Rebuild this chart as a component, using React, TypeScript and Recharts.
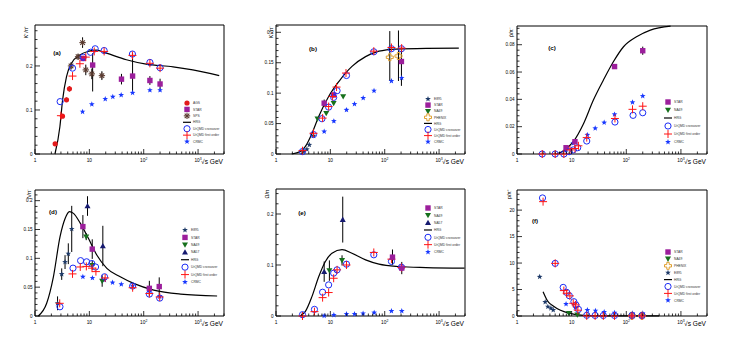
import React from 'react';
import { ComposedChart, Scatter, Line, XAxis, YAxis, ErrorBar, ReferenceArea, Legend } from 'recharts';

type E = number | [number, number];
type Pt = { x: number; y: number; e?: E };

const FONT = '"Liberation Sans", Arial, Helvetica, sans-serif';
const W = 745;
const H = 347;
const AX = 14; // reserved axis band

// ---------- x tick labels ----------
const xMajor = [1, 10, 100, 1000];
const xMajorText = ['1', '10', '10', '10'];
const xMajorExp = ['', '', '2', '3'];
const xTitle = '√s GeV';

// ---------- (a) K+/pi+ ----------
const aAGS: Pt[] = [
  { x: 2.35, y: 0.023, e: 0.004 }, { x: 3.2, y: 0.086, e: 0.004 }, { x: 3.8, y: 0.123, e: 0.005 }, { x: 4.3, y: 0.148, e: 0.006 },
];
const aSTAR: Pt[] = [
  { x: 7.7, y: 0.217, e: 0.006 }, { x: 11.5, y: 0.202, e: [0.06, 0.027] }, { x: 39, y: 0.17, e: 0.012 },
  { x: 62.4, y: 0.177, e: [0.035, 0.052] }, { x: 130, y: 0.167, e: 0.01 }, { x: 200, y: 0.159, e: 0.012 },
];
const aSPS: Pt[] = [
  { x: 4.6, y: 0.2, e: 0.008 }, { x: 6.2, y: 0.221, e: 0.006 }, { x: 7.5, y: 0.253, e: 0.012 },
  { x: 8.6, y: 0.191, e: 0.012 }, { x: 11.1, y: 0.182, e: 0.012 }, { x: 17, y: 0.178, e: 0.01 },
];
const aCross: Pt[] = [
  { x: 2.9, y: 0.119 }, { x: 4.9, y: 0.195 }, { x: 7.7, y: 0.22 }, { x: 10.5, y: 0.231 }, { x: 12.8, y: 0.239 },
  { x: 18.7, y: 0.235 }, { x: 62, y: 0.227 }, { x: 130, y: 0.208 }, { x: 200, y: 0.196 },
];
const aFirst: Pt[] = [
  { x: 3.0, y: 0.087 }, { x: 4.9, y: 0.177 }, { x: 6.7, y: 0.205 }, { x: 8.6, y: 0.22 }, { x: 12.3, y: 0.233 },
  { x: 18.7, y: 0.233 }, { x: 62, y: 0.224 }, { x: 130, y: 0.206 }, { x: 200, y: 0.195 },
];
const aCRMC: Pt[] = [
  { x: 7.5, y: 0.096 }, { x: 11.1, y: 0.113 }, { x: 19.6, y: 0.125 }, { x: 27, y: 0.13 },
  { x: 38.5, y: 0.134 }, { x: 62.4, y: 0.139 }, { x: 130, y: 0.145 }, { x: 200, y: 0.145 },
];
const aHRG: Pt[] = [
  { x: 2.33, y: 0 }, { x: 2.87, y: 0.062 }, { x: 3.22, y: 0.123 }, { x: 3.8, y: 0.176 }, { x: 4.7, y: 0.206 },
  { x: 6.7, y: 0.225 }, { x: 9.5, y: 0.233 }, { x: 13.5, y: 0.236 }, { x: 20.6, y: 0.229 }, { x: 48, y: 0.214 },
  { x: 111, y: 0.204 }, { x: 347, y: 0.198 }, { x: 800, y: 0.191 }, { x: 2450, y: 0.178 },
];

// ---------- (b) K-/pi- ----------
const bE895: Pt[] = [{ x: 3.2, y: 0.004 }, { x: 3.7, y: 0.0077 }, { x: 4.1, y: 0.015 }, { x: 4.9, y: 0.03 }];
const bSTAR: Pt[] = [{ x: 7.7, y: 0.0835, e: 0.006 }, { x: 11.5, y: 0.097, e: 0.004 }, { x: 203, y: 0.152, e: [0.04, 0.024] }];
const bNA49: Pt[] = [{ x: 5.8, y: 0.058 }, { x: 8.4, y: 0.067 }, { x: 11.5, y: 0.0835 }, { x: 17.2, y: 0.0945 }];
const bPHENIX: Pt[] = [{ x: 124, y: 0.159, e: [0.039, 0.043] }, { x: 179, y: 0.161, e: [0.041, 0.042] }];
const bCross: Pt[] = [
  { x: 3.07, y: 0.004 }, { x: 4.9, y: 0.032 }, { x: 7.0, y: 0.058 }, { x: 9.3, y: 0.077 }, { x: 11.5, y: 0.093 },
  { x: 13.3, y: 0.104 }, { x: 19.8, y: 0.129 }, { x: 63, y: 0.168 }, { x: 133, y: 0.173 }, { x: 203, y: 0.173 },
];
const bFirst: Pt[] = [
  { x: 3.07, y: 0.0055 }, { x: 4.9, y: 0.034 }, { x: 7.2, y: 0.059 }, { x: 9.3, y: 0.078 }, { x: 11, y: 0.0945 },
  { x: 13, y: 0.11 }, { x: 19.4, y: 0.133 }, { x: 63, y: 0.169 }, { x: 133, y: 0.175 }, { x: 205, y: 0.174 },
];
const bCRMC: Pt[] = [
  { x: 7.7, y: 0.037 }, { x: 11.6, y: 0.054 }, { x: 19.8, y: 0.0725 }, { x: 27.8, y: 0.082 },
  { x: 40.2, y: 0.092 }, { x: 63.6, y: 0.104 }, { x: 133, y: 0.12 }, { x: 205, y: 0.125 },
];
const bHRG: Pt[] = [
  { x: 1.95, y: 0 }, { x: 2.8, y: 0.004 }, { x: 3.45, y: 0.012 }, { x: 4.6, y: 0.034 }, { x: 6.1, y: 0.0615 },
  { x: 9.3, y: 0.0945 }, { x: 14.3, y: 0.119 }, { x: 25, y: 0.144 }, { x: 44.5, y: 0.16 }, { x: 78.5, y: 0.169 },
  { x: 160, y: 0.1725 }, { x: 574, y: 0.1737 }, { x: 2310, y: 0.174 },
];

// ---------- (c) pbar/pi ----------
const cSTAR: Pt[] = [{ x: 7.9, y: 0.0046 }, { x: 11.5, y: 0.009 }, { x: 61, y: 0.064 }, { x: 200, y: 0.0756, e: 0.003 }];
const cCross: Pt[] = [
  { x: 2.9, y: 0 }, { x: 5.0, y: 0 }, { x: 7.2, y: 0 }, { x: 9.0, y: 0.0017 }, { x: 10.7, y: 0.003 },
  { x: 12.9, y: 0.0046 }, { x: 18.9, y: 0.0095 }, { x: 62, y: 0.0234 }, { x: 133, y: 0.0283 }, { x: 200, y: 0.0302 },
];
const cFirst: Pt[] = [
  { x: 2.9, y: 0 }, { x: 5.0, y: 0 }, { x: 7.2, y: 0 }, { x: 9.3, y: 0.003 }, { x: 11.5, y: 0.004 },
  { x: 13.3, y: 0.006 }, { x: 18.9, y: 0.012 }, { x: 62, y: 0.026 }, { x: 130, y: 0.0327 }, { x: 200, y: 0.035 },
];
const cCRMC: Pt[] = [
  { x: 7.9, y: 0.003 }, { x: 10.7, y: 0.0078 }, { x: 19.4, y: 0.014 }, { x: 27, y: 0.0188 },
  { x: 39.4, y: 0.023 }, { x: 61, y: 0.029 }, { x: 130, y: 0.0378 }, { x: 200, y: 0.0424 },
];
const cHRG: Pt[] = [
  { x: 5.3, y: 0 }, { x: 7.5, y: 0.003 }, { x: 10.7, y: 0.009 }, { x: 16.4, y: 0.022 }, { x: 25, y: 0.0395 },
  { x: 38, y: 0.054 }, { x: 58, y: 0.0675 }, { x: 89, y: 0.0785 }, { x: 157, y: 0.086 }, { x: 276, y: 0.0907 },
  { x: 646, y: 0.0936 },
];

// ---------- (d) Lambda/pi ----------
const dE895: Pt[] = [
  { x: 2.6, y: 0.022, e: 0.012 }, { x: 3.1, y: 0.0726, e: 0.01 }, { x: 3.57, y: 0.0935, e: 0.012 },
  { x: 4.1, y: 0.108, e: 0.018 }, { x: 4.74, y: 0.151, e: 0.04 },
];
const dSTAR: Pt[] = [
  { x: 7.6, y: 0.155, e: 0.02 }, { x: 11.3, y: 0.116, e: 0.017 }, { x: 127, y: 0.048, e: 0.013 }, { x: 193, y: 0.051, e: 0.016 },
];
const dNA49: Pt[] = [{ x: 8.75, y: 0.1375, e: 0.006 }, { x: 11.3, y: 0.088, e: 0.008 }, { x: 17.2, y: 0.0607, e: 0.01 }];
const dNA57: Pt[] = [{ x: 9.25, y: 0.1907, e: 0.017 }, { x: 17.7, y: 0.1214, e: 0.035 }];
const dCross: Pt[] = [
  { x: 2.88, y: 0.016 }, { x: 5.0, y: 0.083 }, { x: 6.9, y: 0.096 }, { x: 8.9, y: 0.094 }, { x: 11.1, y: 0.091 },
  { x: 13, y: 0.085 }, { x: 19, y: 0.068 }, { x: 62.6, y: 0.052 }, { x: 127, y: 0.038 }, { x: 197, y: 0.031 },
];
const dFirst: Pt[] = [
  { x: 2.85, y: 0.022 }, { x: 4.9, y: 0.073 }, { x: 6.8, y: 0.085 }, { x: 8.8, y: 0.086 }, { x: 11.2, y: 0.083 },
  { x: 13.2, y: 0.077 }, { x: 19.5, y: 0.066 }, { x: 62.6, y: 0.049 }, { x: 127, y: 0.039 }, { x: 197, y: 0.033 },
];
const dCRMC: Pt[] = [
  { x: 7.6, y: 0.068 }, { x: 11.4, y: 0.066 }, { x: 19, y: 0.0624 }, { x: 26.7, y: 0.058 },
  { x: 38.7, y: 0.055 }, { x: 62.6, y: 0.0526 }, { x: 127, y: 0.044 }, { x: 197, y: 0.0335 },
];
const dHRG: Pt[] = [
  { x: 1.15, y: 0 }, { x: 1.64, y: 0.022 }, { x: 2.18, y: 0.068 }, { x: 2.89, y: 0.1376 }, { x: 3.58, y: 0.169 },
  { x: 4.3, y: 0.181 }, { x: 5.1, y: 0.178 }, { x: 6.8, y: 0.161 }, { x: 9.6, y: 0.1347 }, { x: 13.7, y: 0.1058 },
  { x: 21, y: 0.0827 }, { x: 37, y: 0.068 }, { x: 65, y: 0.0566 }, { x: 153, y: 0.045 }, { x: 476, y: 0.038 },
  { x: 2240, y: 0.0347 },
];

// ---------- (e) Omega/pi ----------
const eSTAR: Pt[] = [{ x: 139, y: 0.1154, e: 0.015 }, { x: 206, y: 0.094, e: 0.012 }];
const eNA49: Pt[] = [{ x: 9.6, y: 0.089, e: 0.02 }, { x: 16.4, y: 0.109, e: 0.01 }];
const eNA57: Pt[] = [{ x: 7.7, y: 0.087, e: 0.02 }, { x: 16.9, y: 0.189, e: 0.045 }];
const eCross: Pt[] = [
  { x: 3.07, y: 0.0026 }, { x: 5.1, y: 0.013 }, { x: 7.2, y: 0.0466 }, { x: 9.3, y: 0.061 }, { x: 11.5, y: 0.084 },
  { x: 13.3, y: 0.0905 }, { x: 19.8, y: 0.1016 }, { x: 63, y: 0.12 }, { x: 133, y: 0.107 }, { x: 203, y: 0.0957 },
];
const eFirst: Pt[] = [
  { x: 3.07, y: 0 }, { x: 5.1, y: 0.0085 }, { x: 7.2, y: 0.036 }, { x: 9.3, y: 0.046 }, { x: 11.5, y: 0.074 },
  { x: 13.3, y: 0.0905 }, { x: 19.8, y: 0.1 }, { x: 63, y: 0.1246 }, { x: 133, y: 0.1115 }, { x: 203, y: 0.095 },
];
const eCRMC: Pt[] = [
  { x: 7.7, y: 0.0005 }, { x: 11.6, y: 0.002 }, { x: 19.8, y: 0.004 }, { x: 27.8, y: 0.004 },
  { x: 40, y: 0.005 }, { x: 64, y: 0.0066 }, { x: 133, y: 0.0098 }, { x: 206, y: 0.0098 },
];
const eHRG: Pt[] = [
  { x: 2.78, y: 0 }, { x: 3.45, y: 0.0085 }, { x: 4.58, y: 0.038 }, { x: 6.1, y: 0.077 }, { x: 8.1, y: 0.107 },
  { x: 10.7, y: 0.123 }, { x: 16.4, y: 0.13 }, { x: 25, y: 0.123 }, { x: 44.5, y: 0.11 }, { x: 78.5, y: 0.1016 },
  { x: 184, y: 0.097 }, { x: 575, y: 0.095 }, { x: 2940, y: 0.0938 },
];

// ---------- (f) p/pi ----------
const fSTAR: Pt[] = [{ x: 127, y: 0.05 }, { x: 194, y: 0.05 }];
const fNA49: Pt[] = [{ x: 8.9, y: 0.5 }, { x: 12.7, y: 0.25 }];
const fPHENIX: Pt[] = [{ x: 127, y: 0.05 }, { x: 194, y: 0.05 }];
const fE895: Pt[] = [{ x: 2.6, y: 7.4 }, { x: 3.28, y: 2.64 }, { x: 3.67, y: 1.76 }, { x: 4.17, y: 1.45 }, { x: 4.6, y: 1.13 }];
const fCross: Pt[] = [
  { x: 2.93, y: 22.3 }, { x: 5.0, y: 9.94 }, { x: 7.0, y: 5.4 }, { x: 8.1, y: 4.47 }, { x: 9.05, y: 3.84 },
  { x: 11, y: 2.7 }, { x: 12, y: 2.08 }, { x: 13.3, y: 1.26 }, { x: 18.9, y: 0.13 }, { x: 26.9, y: 0.1 },
  { x: 38, y: 0.1 }, { x: 61, y: 0.1 }, { x: 127, y: 0.1 }, { x: 194, y: 0.1 },
];
const fFirst: Pt[] = [
  { x: 3.0, y: 21.6 }, { x: 5.0, y: 9.94 }, { x: 7.2, y: 4.8 }, { x: 8.1, y: 4.3 }, { x: 9.3, y: 3.8 },
  { x: 10.7, y: 2.4 }, { x: 11.8, y: 2.1 }, { x: 13, y: 1.1 }, { x: 18.9, y: 0.02 }, { x: 26.9, y: 0.02 },
  { x: 38, y: 0.02 }, { x: 61, y: 0.02 }, { x: 127, y: 0.02 }, { x: 194, y: 0.02 },
];
const fCRMC: Pt[] = [
  { x: 7.9, y: 2.26 }, { x: 11.7, y: 1.6 }, { x: 19.4, y: 1.13 }, { x: 27.3, y: 1.0 },
  { x: 39.4, y: 0.75 }, { x: 61, y: 0.63 }, { x: 130, y: 0.5 }, { x: 200, y: 0.5 },
];
const fHRG: Pt[] = [
  { x: 3.0, y: 4.6 }, { x: 3.7, y: 2.7 }, { x: 4.6, y: 1.9 }, { x: 6.1, y: 1.13 }, { x: 9.3, y: 0.5 },
  { x: 16.4, y: 0.13 }, { x: 28.8, y: 0.04 }, { x: 100, y: 0.03 }, { x: 400, y: 0.03 },
];

// ---------- marker styles ----------
type Kind = { shape: string; color: string };
const KINDS: Record<string, Kind> = {
  AGS: { shape: 'circle', color: '#e31a1c' },
  STAR: { shape: 'square', color: '#9c1f9c' },
  SPS: { shape: 'asterisk', color: '#5b3b30' },
  HRG: { shape: 'line', color: '#000000' },
  'UrQMD crossover': { shape: 'ocircle', color: '#1b2cf5' },
  'UrQMD first order': { shape: 'cross', color: '#ff1414' },
  CRMC: { shape: 'star', color: '#1838ff' },
  E895: { shape: 'star', color: '#1e3a68' },
  NA49: { shape: 'tdown', color: '#16701c' },
  NA57: { shape: 'tup', color: '#161a70' },
  PHENIX: { shape: 'ocross', color: '#dfa030' },
};

const starPts = (cx: number, cy: number, R: number) => {
  const p: string[] = [];
  for (let i = 0; i < 10; i++) {
    const a = -Math.PI / 2 + (i * Math.PI) / 5;
    const r = i % 2 ? R * 0.42 : R;
    p.push(`${cx + r * Math.cos(a)},${cy + r * Math.sin(a)}`);
  }
  return p.join(' ');
};

function Mark({ kind, cx, cy }: { kind: string; cx: number; cy: number }) {
  if (cx == null || cy == null || isNaN(cx) || isNaN(cy)) return <g />;
  const k = KINDS[kind];
  const c = k.color;
  switch (k.shape) {
    case 'circle':
      return <circle cx={cx} cy={cy} r={2.6} fill={c} />;
    case 'square':
      return <rect x={cx - 2.7} y={cy - 2.7} width={5.4} height={5.4} fill={c} />;
    case 'ocircle':
      return <circle cx={cx} cy={cy} r={3.1} fill="none" stroke={c} strokeWidth={1} />;
    case 'cross':
      return (
        <g stroke={c} strokeWidth={1}>
          <line x1={cx - 4} x2={cx + 4} y1={cy} y2={cy} />
          <line x1={cx} x2={cx} y1={cy - 4} y2={cy + 4} />
        </g>
      );
    case 'star':
      return <polygon points={starPts(cx, cy, 3)} fill={c} />;
    case 'asterisk':
      return (
        <g stroke={c} strokeWidth={1.1}>
          <line x1={cx - 3.2} x2={cx + 3.2} y1={cy} y2={cy} />
          <line x1={cx} x2={cx} y1={cy - 3.2} y2={cy + 3.2} />
          <line x1={cx - 2.3} x2={cx + 2.3} y1={cy - 2.3} y2={cy + 2.3} />
          <line x1={cx - 2.3} x2={cx + 2.3} y1={cy + 2.3} y2={cy - 2.3} />
        </g>
      );
    case 'tdown':
      return <polygon points={`${cx - 3},${cy - 2.3} ${cx + 3},${cy - 2.3} ${cx},${cy + 3}`} fill={c} />;
    case 'tup':
      return <polygon points={`${cx - 3},${cy + 2.3} ${cx + 3},${cy + 2.3} ${cx},${cy - 3}`} fill={c} />;
    case 'ocross': {
      const R = 3.5, a = 1.2;
      const d = `M${cx - a},${cy - R}L${cx + a},${cy - R}L${cx + a},${cy - a}L${cx + R},${cy - a}L${cx + R},${cy + a}L${cx + a},${cy + a}L${cx + a},${cy + R}L${cx - a},${cy + R}L${cx - a},${cy + a}L${cx - R},${cy + a}L${cx - R},${cy - a}L${cx - a},${cy - a}Z`;
      return <path d={d} fill="none" stroke={c} strokeWidth={1} />;
    }
    case 'line':
      return <line x1={cx - 4} x2={cx + 4} y1={cy} y2={cy} stroke={c} strokeWidth={1.2} />;
    default:
      return <g />;
  }
}

// ---------- panels ----------
type SeriesDef = { name: string; data: Pt[] };
type PanelDef = {
  id: string;
  plot: { l: number; r: number; t: number; b: number };
  ymax: number;
  yMajor: number[];
  yMajorText: string[];
  yMinor: number;
  title: string;
  titleAt: [number, number];
  letter: string;
  letterAt: [number, number];
  legendAt: [number, number];
  legendDy: number;
  legend: string[];
  hrg: Pt[];
  series: SeriesDef[];
};

const PANELS: PanelDef[] = [
  {
    id: 'a', plot: { l: 35, r: 224, t: 25, b: 154 }, ymax: 0.293,
    yMajor: [0, 0.1, 0.2], yMajorText: ['0', '0.1', '0.2'], yMinor: 0.02,
    title: 'K⁺/π⁺', titleAt: [-8, 7], letter: '(a)', letterAt: [22, 30],
    legendAt: [186.7, 102.7], legendDy: 6.43,
    legend: ['AGS', 'STAR', 'SPS', 'HRG', 'UrQMD crossover', 'UrQMD first order', 'CRMC'],
    hrg: aHRG,
    series: [
      { name: 'CRMC', data: aCRMC }, { name: 'AGS', data: aAGS }, { name: 'STAR', data: aSTAR }, { name: 'SPS', data: aSPS },
      { name: 'UrQMD crossover', data: aCross }, { name: 'UrQMD first order', data: aFirst },
    ],
  },
  {
    id: 'b', plot: { l: 276, r: 465, t: 25, b: 154 }, ymax: 0.212,
    yMajor: [0, 0.05, 0.1, 0.15, 0.2], yMajorText: ['0', '0.05', '0.1', '0.15', '0.2'], yMinor: 0.01,
    title: 'K⁻/π⁻', titleAt: [-4, 7], letter: '(b)', letterAt: [37, 26],
    legendAt: [428.3, 99], legendDy: 6.1,
    legend: ['E895', 'STAR', 'NA49', 'PHENIX', 'HRG', 'UrQMD crossover', 'UrQMD first order', 'CRMC'],
    hrg: bHRG,
    series: [
      { name: 'CRMC', data: bCRMC }, { name: 'E895', data: bE895 }, { name: 'STAR', data: bSTAR }, { name: 'NA49', data: bNA49 },
      { name: 'PHENIX', data: bPHENIX }, { name: 'UrQMD crossover', data: bCross }, { name: 'UrQMD first order', data: bFirst },
    ],
  },
  {
    id: 'c', plot: { l: 517, r: 707, t: 26, b: 154 }, ymax: 0.0937,
    yMajor: [0, 0.02, 0.04, 0.06, 0.08], yMajorText: ['0', '0.02', '0.04', '0.06', '0.08'], yMinor: 0.004,
    title: 'p̄/π⁻', titleAt: [-5, 6], letter: '(c)', letterAt: [35, 24],
    legendAt: [668, 102], legendDy: 8,
    legend: ['STAR', 'NA49', 'HRG', 'UrQMD crossover', 'UrQMD first order', 'CRMC'],
    hrg: cHRG,
    series: [
      { name: 'CRMC', data: cCRMC }, { name: 'STAR', data: cSTAR },
      { name: 'UrQMD crossover', data: cCross }, { name: 'UrQMD first order', data: cFirst },
    ],
  },
  {
    id: 'd', plot: { l: 35, r: 224, t: 190, b: 316 }, ymax: 0.2185,
    yMajor: [0, 0.05, 0.1, 0.15, 0.2], yMajorText: ['0', '0.05', '0.1', '0.15', '0.2'], yMinor: 0.01,
    title: 'Λ/π⁻', titleAt: [-5, 4], letter: '(d)', letterAt: [18, 24],
    legendAt: [185, 230], legendDy: 7.43,
    legend: ['E895', 'STAR', 'NA49', 'NA57', 'HRG', 'UrQMD crossover', 'UrQMD first order', 'CRMC'],
    hrg: dHRG,
    series: [
      { name: 'CRMC', data: dCRMC }, { name: 'E895', data: dE895 }, { name: 'STAR', data: dSTAR }, { name: 'NA49', data: dNA49 },
      { name: 'NA57', data: dNA57 }, { name: 'UrQMD crossover', data: dCross }, { name: 'UrQMD first order', data: dFirst },
    ],
  },
  {
    id: 'e', plot: { l: 276, r: 465, t: 189, b: 316 }, ymax: 0.249,
    yMajor: [0, 0.1, 0.2], yMajorText: ['0', '0.1', '0.2'], yMinor: 0.02,
    title: 'Ω/π', titleAt: [-8, 5], letter: '(e)', letterAt: [26, 26],
    legendAt: [427.7, 208.3], legendDy: 7.33,
    legend: ['STAR', 'NA49', 'NA57', 'HRG', 'UrQMD crossover', 'UrQMD first order', 'CRMC'],
    hrg: eHRG,
    series: [
      { name: 'CRMC', data: eCRMC }, { name: 'NA49', data: eNA49 }, { name: 'NA57', data: eNA57 },
      { name: 'UrQMD crossover', data: eCross }, { name: 'UrQMD first order', data: eFirst }, { name: 'STAR', data: eSTAR },
    ],
  },
  {
    id: 'f', plot: { l: 517, r: 707, t: 190, b: 316 }, ymax: 23.8,
    yMajor: [0, 5, 10, 15, 20], yMajorText: ['0', '5', '10', '15', '20'], yMinor: 1,
    title: 'p/π⁺', titleAt: [-7, 4], letter: '(f)', letterAt: [18, 33],
    legendAt: [667.7, 251.7], legendDy: 6.9,
    legend: ['STAR', 'NA49', 'PHENIX', 'E895', 'HRG', 'UrQMD crossover', 'UrQMD first order', 'CRMC'],
    hrg: fHRG,
    series: [
      { name: 'CRMC', data: fCRMC }, { name: 'E895', data: fE895 }, { name: 'STAR', data: fSTAR }, { name: 'NA49', data: fNA49 },
      { name: 'PHENIX', data: fPHENIX }, { name: 'UrQMD crossover', data: fCross }, { name: 'UrQMD first order', data: fFirst },
    ],
  },
];

const X_MIN = 1;
const X_MAX = 3000;
const xTicks: number[] = [];
for (const d of [1, 10, 100, 1000]) for (let m = 1; m <= 9; m++) if (m * d <= X_MAX) xTicks.push(m * d);

const XTick = (p: any) => {
  const v = p.payload && p.payload.value;
  const idx = xMajor.indexOf(v);
  const major = idx >= 0;
  return (
    <g>
      <line x1={p.x} x2={p.x} y1={p.y} y2={p.y - (major ? 5 : 2.5)} stroke="#000" strokeWidth={0.8} />
      {major && (
        <text x={p.x} y={p.y + 8} textAnchor="middle" fontSize={4.8} fontFamily={FONT} fill="#000">
          {xMajorText[idx]}
          {xMajorExp[idx] && <tspan dy={-2} fontSize={3.4}>{xMajorExp[idx]}</tspan>}
        </text>
      )}
    </g>
  );
};

function Panel({ cfg }: { cfg: PanelDef }) {
  const { l, r, t, b } = cfg.plot;
  const yTicks: number[] = [];
  for (let i = 0; i * cfg.yMinor <= cfg.ymax + 1e-12; i++) yTicks.push(Math.round(i * cfg.yMinor * 1e6) / 1e6);
  const YTick = (p: any) => {
    const v = p.payload && p.payload.value;
    const idx = cfg.yMajor.findIndex((m) => Math.abs(m - v) < 1e-9);
    const major = idx >= 0;
    return (
      <g>
        <line x1={p.x} x2={p.x + (major ? 5 : 2.5)} y1={p.y} y2={p.y} stroke="#000" strokeWidth={0.8} />
        {major && (
          <text x={p.x - 2.5} y={p.y + 1.7} textAnchor="end" fontSize={4.6} fontFamily={FONT} fill="#000">
            {cfg.yMajorText[idx]}
          </text>
        )}
      </g>
    );
  };
  const legendH = cfg.legend.length * cfg.legendDy + 6;
  const tx = l + cfg.titleAt[0];
  const ty = t + cfg.titleAt[1];
  return (
    <div style={{ position: 'absolute', left: 0, top: 0, width: W, height: H }}>
      <ComposedChart width={W} height={H} margin={{ left: l - AX, right: W - r, top: t, bottom: H - b - AX }}>
        <XAxis
          type="number" dataKey="x" scale="log" domain={[X_MIN, X_MAX]} ticks={xTicks} interval={0}
          tickSize={0} tickMargin={0} tickLine={false} axisLine={false} height={AX}
          tick={(p: any) => <XTick {...p} />}
          label={{
            content: () => (
              <text x={r - 1} y={b + 10} textAnchor="end" fontSize={6.6} fontFamily={FONT} fill="#000">{xTitle}</text>
            ),
          }}
        />
        <YAxis
          type="number" dataKey="y" domain={[0, cfg.ymax]} ticks={yTicks} interval={0}
          tickSize={0} tickMargin={0} tickLine={false} axisLine={false} width={AX}
          tick={(p: any) => <YTick {...p} />}
          label={{
            content: () => (
              <text
                x={tx} y={ty} textAnchor="middle" fontSize={5.2} fontFamily={FONT}
                fill="#000" transform={`rotate(-90 ${tx} ${ty})`} dominantBaseline="middle"
              >
                {cfg.title}
              </text>
            ),
          }}
        />
        <ReferenceArea
          x1={X_MIN} x2={X_MAX} y1={0} y2={cfg.ymax} fill="none" fillOpacity={0} stroke="#000" strokeWidth={1}
          ifOverflow="visible"
          label={() => (
            <text x={l + cfg.letterAt[0]} y={t + cfg.letterAt[1]} textAnchor="middle" fontSize={6.2} fontWeight="bold" fontFamily={FONT} fill="#000">
              {cfg.letter}
            </text>
          )}
        />
        <Line data={cfg.hrg} dataKey="y" type="monotone" dot={false} stroke="#000" strokeWidth={1.2} isAnimationActive={false} />
        {cfg.series.map((s) => {
          const hasErr = s.data.some((d) => d.e !== undefined);
          return (
            <Scatter
              key={s.name} name={s.name} data={s.data} isAnimationActive={false}
              shape={(p: any) => <Mark kind={s.name} cx={p.cx} cy={p.cy} />}
            >
              {hasErr && <ErrorBar dataKey="e" direction="y" width={0} stroke="#000" strokeWidth={1} isAnimationActive={false} />}
            </Scatter>
          );
        })}
        <Legend
          layout="horizontal" verticalAlign="middle" align="center"
          wrapperStyle={{ left: cfg.legendAt[0] - 5, top: cfg.legendAt[1] - 4, width: 70, height: legendH, lineHeight: 0 }}
          content={() => (
            <svg width={70} height={legendH} style={{ display: 'block', overflow: 'visible' }}>
              {cfg.legend.map((n, i) => {
                const cy = 4 + i * cfg.legendDy;
                return (
                  <g key={n}>
                    <Mark kind={n} cx={5} cy={cy} />
                    <text x={11} y={cy + 1.2} fontSize={3.3} fontFamily={FONT} fill="#333">{n}</text>
                  </g>
                );
              })}
            </svg>
          )}
        />
      </ComposedChart>
    </div>
  );
}

export default function App() {
  return (
    <div style={{ position: 'absolute', left: 0, top: 0, width: W, height: H, background: '#fff', fontFamily: FONT }}>
      {PANELS.map((p) => (
        <Panel key={p.id} cfg={p} />
      ))}
    </div>
  );
}
